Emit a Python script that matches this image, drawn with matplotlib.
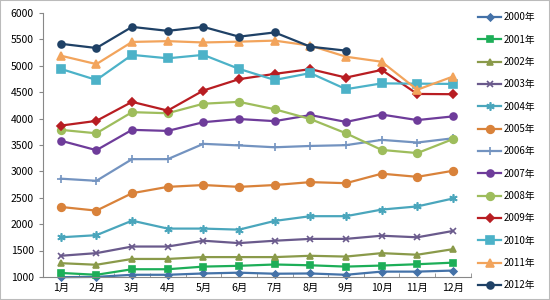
import matplotlib
matplotlib.use('Agg')
import matplotlib.pyplot as plt
from matplotlib.patches import Rectangle

plt.rcParams['font.family'] = ['Noto Sans CJK SC', 'DejaVu Sans']

months = ['1月', '2月', '3月', '4月', '5月', '6月', '7月', '8月', '9月', '10月', '11月', '12月']

y2000 = [995, 1000, 1040, 1040, 1065, 1080, 1060, 1065, 1040, 1100, 1100, 1120]
y2001 = [1075, 1040, 1145, 1145, 1195, 1210, 1235, 1220, 1195, 1215, 1240, 1270]
y2002 = [1260, 1230, 1340, 1340, 1375, 1375, 1375, 1400, 1385, 1450, 1420, 1525]
y2003 = [1400, 1450, 1575, 1575, 1685, 1640, 1685, 1720, 1720, 1780, 1750, 1870]
y2004 = [1750, 1790, 2065, 1915, 1915, 1895, 2060, 2150, 2150, 2275, 2335, 2485]
y2005 = [2325, 2255, 2585, 2705, 2740, 2705, 2740, 2795, 2775, 2955, 2895, 3010]
y2006 = [2860, 2820, 3230, 3230, 3520, 3490, 3455, 3480, 3495, 3595, 3545, 3625]
y2007 = [3580, 3400, 3785, 3765, 3930, 3990, 3950, 4065, 3935, 4075, 3970, 4040]
y2008 = [3785, 3720, 4120, 4100, 4280, 4315, 4175, 3990, 3720, 3405, 3345, 3610]
y2009 = [3865, 3955, 4315, 4150, 4530, 4745, 4845, 4935, 4775, 4920, 4465, 4460]
y2010 = [4940, 4730, 5205, 5140, 5205, 4940, 4730, 4860, 4555, 4665, 4660, 4655]
y2011 = [5190, 5030, 5450, 5465, 5440, 5455, 5475, 5380, 5170, 5075, 4545, 4795]
y2012 = [5415, 5335, 5735, 5660, 5735, 5550, 5630, 5360, 5285]

series = [
    ('2000年', y2000, '#4472A8', 'D', 3.5),
    ('2001年', y2001, '#1DAE58', 's', 5),
    ('2002年', y2002, '#8A9A4A', '^', 5),
    ('2003年', y2003, '#6A5A8C', 'x', 5),
    ('2004年', y2004, '#4AA6BC', (6, 2, 0), 6),
    ('2005年', y2005, '#D9823A', 'o', 5.5),
    ('2006年', y2006, '#7393C0', '+', 6),
    ('2007年', y2007, '#6E3C9A', 'o', 5),
    ('2008年', y2008, '#9EBD5C', 'o', 5.5),
    ('2009年', y2009, '#B81D22', 'D', 4.5),
    ('2010年', y2010, '#4CB2C8', 's', 6),
    ('2011年', y2011, '#F2A45C', '^', 6),
    ('2012年', y2012, '#1F4166', 'o', 5),
]

fig = plt.figure(figsize=(5.5, 3), dpi=100)
ax = fig.add_axes([0.078, 0.077, 0.778, 0.88])

for name, vals, c, m, ms in series:
    ax.plot(range(len(vals)), vals, color=c, marker=m, markersize=ms,
            linewidth=1.6, markeredgewidth=1.2, label=name, clip_on=False)

ax.set_xlim(-0.5, 11.5)
ax.set_ylim(1000, 6000)
ax.set_yticks(range(1000, 6001, 500))
ax.set_xticks(range(12))
ax.set_xticklabels(months)
ax.set_xticks([i - 0.5 for i in range(13)], minor=True)
ax.tick_params(axis='x', which='major', length=0, labelsize=7.5, pad=4)
ax.tick_params(axis='x', which='minor', length=3, direction='in', color='#888888')
ax.tick_params(axis='y', length=3, direction='out', color='#888888', labelsize=7.5)
for s in ['top', 'right']:
    ax.spines[s].set_visible(False)
for s in ['left', 'bottom']:
    ax.spines[s].set_color('#888888')
    ax.spines[s].set_linewidth(0.8)

fig.legend(loc='upper left', bbox_to_anchor=(0.862, 0.972), frameon=False,
           fontsize=7, handlelength=2.4, labelspacing=1.27, handletextpad=0.2,
           borderaxespad=0)

fig.patches.append(Rectangle((0, 0), 1, 1, transform=fig.transFigure,
                             fill=False, edgecolor='#BBBBBB', linewidth=1.5))

fig.savefig('out.png', dpi=100)
